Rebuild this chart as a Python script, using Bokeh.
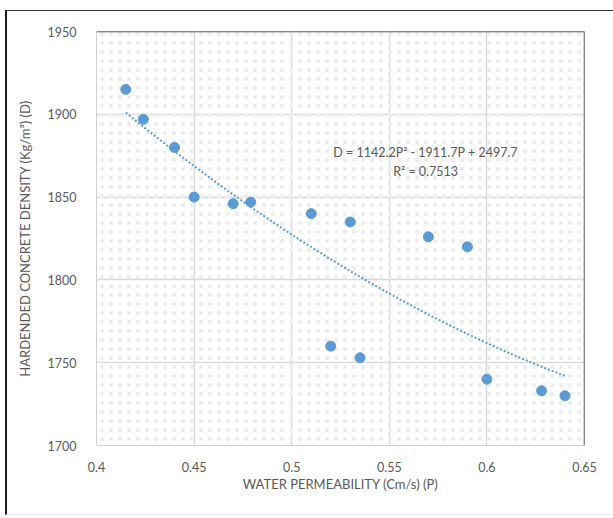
import numpy as np
from bokeh.plotting import figure
from bokeh.models import ColumnDataSource, Label, Span, BoxAnnotation, FixedTicker
from bokeh.embed import file_html
from bokeh.resources import INLINE

# Data
permeability = [0.415, 0.424, 0.44, 0.45, 0.47, 0.479, 0.51, 0.53, 0.52, 0.535, 0.57, 0.59, 0.60, 0.628, 0.64]
density = [1915, 1897, 1880, 1850, 1846, 1847, 1840, 1835, 1760, 1753, 1826, 1820, 1740, 1733, 1730]

# Trendline coefficients shown on the chart: D = a P^2 + b P + c
coef_a, coef_b, coef_c = 1142.2, -1911.7, 2497.7
eq_text = "D = 1142.2P² - 1911.7P + 2497.7"
r2_text = "R² = 0.7513"

x_ticks = [0.4, 0.45, 0.5, 0.55, 0.6, 0.65]
y_ticks = [1700, 1750, 1800, 1850, 1900, 1950]

FONT = "Lato"
GREY_TXT = "#595959"
BLUE = "#5B9BD5"

p = figure(width=608, height=505, x_range=(0.4, 0.65), y_range=(1700, 1950),
           output_backend="svg", toolbar_location=None,
           min_border_left=89, min_border_right=31, min_border_top=20, min_border_bottom=71)
p.margin = (10, 0, 0, 5)
p.styles = {"border-left": "2px solid #1a1a1a", "border-top": "1px solid #333333",
            "border-bottom": "1px solid #e6e6e6"}

p.background_fill_color = "white"
p.border_fill_color = "white"
p.outline_line_color = "#d0d0d0"
p.outline_line_width = 1

# dotted background pattern
p.add_layout(BoxAnnotation(fill_alpha=0, line_alpha=0, hatch_pattern=".",
                           hatch_color="#eeeeee", hatch_scale=9, level="underlay"))

for ax in (p.xaxis[0], p.yaxis[0]):
    ax.axis_line_color = None
    ax.major_tick_line_color = None
    ax.minor_tick_line_color = None
    ax.major_label_text_font = FONT
    ax.major_label_text_font_size = "12.5px"
    ax.major_label_text_color = GREY_TXT
    ax.axis_label_text_font = FONT
    ax.axis_label_text_font_size = "13px"
    ax.axis_label_text_font_style = "normal"
    ax.axis_label_text_color = GREY_TXT

p.xaxis.ticker = FixedTicker(ticks=x_ticks)
p.yaxis.ticker = FixedTicker(ticks=y_ticks)
p.xaxis.major_label_overrides = {0.4: "0.4", 0.45: "0.45", 0.5: "0.5", 0.55: "0.55", 0.6: "0.6", 0.65: "0.65"}
p.xaxis.axis_label = "WATER PERMEABILITY (Cm/s) (P)"
p.yaxis.axis_label = "HARDENDED CONCRETE DENSITY (Kg/m³) (D)"
p.xaxis.major_label_standoff = 10
p.yaxis.major_label_standoff = 14
p.xaxis.axis_label_standoff = 1
p.yaxis.axis_label_standoff = 12

p.grid.grid_line_color = "#d9d9d9"
p.grid.grid_line_width = 1.5

# dark top/right frame edges
p.add_layout(Span(location=1950, dimension="width", line_color="#404040", line_width=1.5))
p.add_layout(Span(location=0.65, dimension="height", line_color="#404040", line_width=1.5))

# trendline
tx = np.linspace(min(permeability), max(permeability), 100)
ty = coef_a * tx**2 + coef_b * tx + coef_c
p.line(tx, ty, line_color=BLUE, line_width=2, line_dash="2 2")

src = ColumnDataSource(dict(x=permeability, y=density))
p.scatter("x", "y", source=src, size=10, fill_color=BLUE, line_color=BLUE)

p.add_layout(Label(x=0.5686, y=1877, text=eq_text, text_align="center", text_baseline="middle",
                   text_font=FONT, text_font_size="12.5px", text_color=GREY_TXT))
p.add_layout(Label(x=0.5686, y=1865.5, text=r2_text, text_align="center", text_baseline="middle",
                   text_font=FONT, text_font_size="12.5px", text_color=GREY_TXT))

open("out.html", "w").write(file_html(p, INLINE))
